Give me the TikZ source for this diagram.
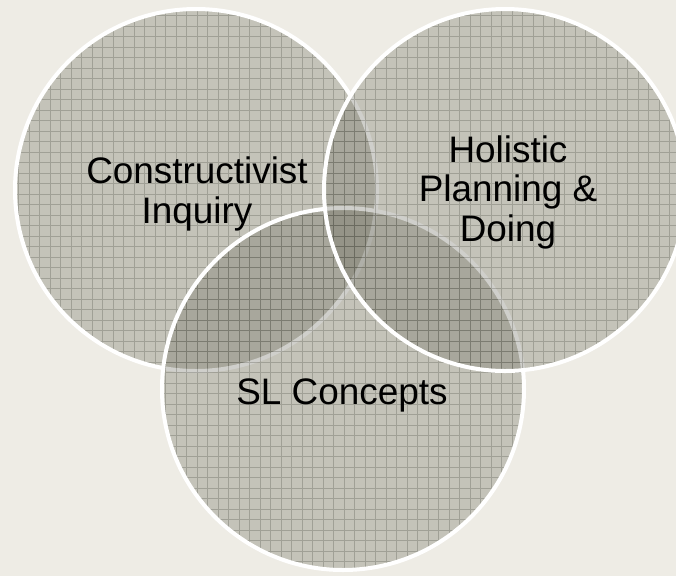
\documentclass[tikz,border=0pt]{standalone}
\usepackage{fontspec}
\setmainfont{Liberation Sans}
\usepackage{tikz}
\usetikzlibrary{positioning}

\definecolor{slidebg}{RGB}{238,236,229}
\definecolor{discfill}{RGB}{112,112,98}
\definecolor{gridline}{RGB}{80,80,70}

\tikzset{venn disc/.style={fill=discfill,fill opacity=0.33},
	venn grid/.style={draw=gridline,draw opacity=0.3,line width=0.55pt},
	venn rim/.style={draw=white,line width=0.08cm},
	venn text/.style={align=center,text=black,inner sep=0,
		font=\fontsize{21pt}{22.5pt}\selectfont}}

\begin{document}
\begin{tikzpicture}[x=0.02cm,y=0.02cm]
	% slide background
	\fill[slidebg] (0,0) rectangle (676,-576);
	\useasboundingbox (0,0) rectangle (676,-576);

	\coordinate (constr) at (196,-190);
	\coordinate (holist) at (505,-190);
	\coordinate (slconc) at (343,-389);

	% discs, bottom one drawn before the right one
	\foreach \c in {constr,slconc,holist}{
		\fill[venn disc] (\c) circle (181);
		\begin{scope}
			\clip (\c) circle (181);
			\draw[venn grid,shift={(8,-5.3)},step=10.5] (-21,21) grid (690,-590);
		\end{scope}
		\draw[venn rim] (\c) circle (181);
	}

	\node[venn text] (constrtext) at (197,-194) {Constructivist\\Inquiry};
	\node[venn text] (holisttext) at (508,-192) {Holistic\\Planning \&\\Doing};
	\node[venn text] (slconctext) at (342,-395) {SL Concepts};
\end{tikzpicture}
\end{document}
